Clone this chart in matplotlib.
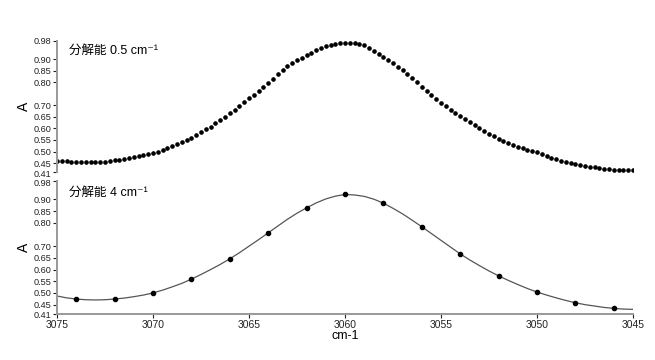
import numpy as np
import matplotlib
matplotlib.use("Agg")
import matplotlib.pyplot as plt
import matplotlib.transforms as mtransforms

plt.rcParams['font.family'] = ['Liberation Sans', 'Noto Sans CJK JP', 'DejaVu Sans']

# ---- data ----
hi_start, hi_stop, hi_step = 3075.0, 3045.0, 0.25
hi_wn = np.arange(hi_start, hi_stop - 0.01, -hi_step)
hi_abs = [
    0.460, 0.458, 0.457, 0.456, 0.455, 0.454, 0.453, 0.453, 0.453, 0.454,
    0.456, 0.459, 0.462, 0.465, 0.468, 0.472, 0.476, 0.480, 0.484, 0.488,
    0.493, 0.500, 0.507, 0.514, 0.522, 0.531, 0.540, 0.550, 0.560, 0.572,
    0.584, 0.596, 0.608, 0.622, 0.636, 0.651, 0.667, 0.682, 0.698, 0.714,
    0.730, 0.746, 0.763, 0.780, 0.798, 0.816, 0.835, 0.853, 0.870, 0.883,
    0.896, 0.907, 0.918, 0.928, 0.938, 0.947, 0.955, 0.961, 0.966, 0.970,
    0.972, 0.972, 0.970, 0.966, 0.960, 0.948, 0.936, 0.923, 0.910, 0.896,
    0.882, 0.868, 0.853, 0.835, 0.817, 0.799, 0.781, 0.764, 0.746, 0.729,
    0.712, 0.697, 0.682, 0.668, 0.654, 0.641, 0.628, 0.615, 0.602, 0.590,
    0.578, 0.566, 0.555, 0.546, 0.537, 0.529, 0.521, 0.514, 0.508, 0.502,
    0.496, 0.488, 0.481, 0.473, 0.466, 0.460, 0.454, 0.449, 0.444, 0.441,
    0.438, 0.435, 0.432, 0.429, 0.426, 0.423, 0.421, 0.419, 0.419, 0.420,
    0.422,
]

lo_dot_wn = [3074, 3072, 3070, 3068, 3066, 3064, 3062, 3060, 3058, 3056,
             3054, 3052, 3050, 3048, 3046]
lo_dot_abs = [0.474, 0.474, 0.500, 0.559, 0.646, 0.757, 0.864, 0.921, 0.884,
              0.783, 0.667, 0.573, 0.504, 0.458, 0.434]

lo_line_wn = [3075, 3074.5, 3074, 3073.5, 3073, 3072.5, 3072, 3071.5, 3071,
              3070.5, 3070, 3069.5, 3069, 3068.5, 3068, 3067.5, 3067, 3066.5,
              3066, 3065.5, 3065, 3064.5, 3064, 3063.5, 3063, 3062.5, 3062,
              3061.5, 3061, 3060.5, 3060, 3059.5, 3059, 3058.5, 3058, 3057.5,
              3057, 3056.5, 3056, 3055.5, 3055, 3054.5, 3054, 3053.5, 3053,
              3052.5, 3052, 3051.5, 3051, 3050.5, 3050, 3049.5, 3049, 3048.5,
              3048, 3047.5, 3047, 3046.5, 3046, 3045.5, 3045]
lo_line_abs = [0.487, 0.479, 0.474, 0.471, 0.470, 0.471, 0.474, 0.478, 0.484,
               0.491, 0.500, 0.512, 0.526, 0.541, 0.559, 0.579, 0.600, 0.622,
               0.646, 0.672, 0.700, 0.728, 0.757, 0.786, 0.815, 0.841, 0.864,
               0.885, 0.902, 0.914, 0.921, 0.919, 0.913, 0.901, 0.884, 0.862,
               0.838, 0.811, 0.783, 0.754, 0.725, 0.696, 0.667, 0.641, 0.617,
               0.594, 0.573, 0.554, 0.536, 0.519, 0.504, 0.491, 0.479, 0.468,
               0.458, 0.450, 0.444, 0.438, 0.434, 0.431, 0.430]

y_ticks = [0.41, 0.45, 0.50, 0.55, 0.60, 0.65, 0.70, 0.80, 0.85, 0.90, 0.98]
x_ticks = [3075, 3070, 3065, 3060, 3055, 3050, 3045]
title_hi = '分解能 0.5 cm⁻¹'
title_lo = '分解能 4 cm⁻¹'

# ---- figure ----
fig = plt.figure(figsize=(6.55, 3.6), dpi=100)
L, W = 57 / 655, (633 - 57) / 655
ax1 = fig.add_axes([L, 1 - 172.3 / 360, W, (172.3 - 40.7) / 360])
ax2 = fig.add_axes([L, 1 - 314 / 360, W, (314 - 180.7) / 360])

for ax in (ax1, ax2):
    ax.set_xlim(3075, 3045)
    ax.set_ylim(0.41, 0.98)
    ax.set_yticks(y_ticks)
    ax.set_yticklabels([f'{v:.2f}' for v in y_ticks])
    ax.tick_params(axis='y', length=3, width=0.8, labelsize=6.6, pad=1,
                   colors='#222222')
    ax.spines['top'].set_visible(False)
    ax.spines['right'].set_visible(False)
    ax.spines['left'].set_color('#999999')
    ax.spines['left'].set_linewidth(1.4)
    ax.set_ylabel('A', fontsize=10, labelpad=2)
    ax.patch.set_alpha(0)

# nudge the crowded labels at the junction of the two panels
d1 = mtransforms.ScaledTranslation(0, -0.7 / 72, fig.dpi_scale_trans)
d2 = mtransforms.ScaledTranslation(0, -1.3 / 72, fig.dpi_scale_trans)
lab_top = ax1.get_yticklabels()[0]
lab_top.set_transform(lab_top.get_transform() + d1)
lab_bot = ax2.get_yticklabels()[-1]
lab_bot.set_transform(lab_bot.get_transform() + d2)

ax1.spines['bottom'].set_visible(False)
ax1.set_xticks([])

ax1.plot(hi_wn, hi_abs, linestyle='none', marker='o', markersize=2.3,
         color='black')
ax1.text(0.02, 0.97, title_hi, transform=ax1.transAxes, fontsize=9,
         va='top', ha='left')

ax2.plot(lo_line_wn, lo_line_abs, color='#555555', linewidth=0.9)
ax2.plot(lo_dot_wn, lo_dot_abs, linestyle='none', marker='o', markersize=3.0,
         color='black')
ax2.text(0.02, 0.95, title_lo, transform=ax2.transAxes, fontsize=9,
         va='top', ha='left')
ax2.spines['bottom'].set_color('#999999')
ax2.spines['bottom'].set_linewidth(1.4)
ax2.set_xticks(x_ticks)
ax2.set_xticklabels([str(t) for t in x_ticks])
ax2.tick_params(axis='x', length=3, width=0.8, labelsize=7.5, pad=1,
                colors='#222222')
ax2.set_xlabel('cm-1', fontsize=9, labelpad=0)

fig.savefig('out.png', dpi=100)
